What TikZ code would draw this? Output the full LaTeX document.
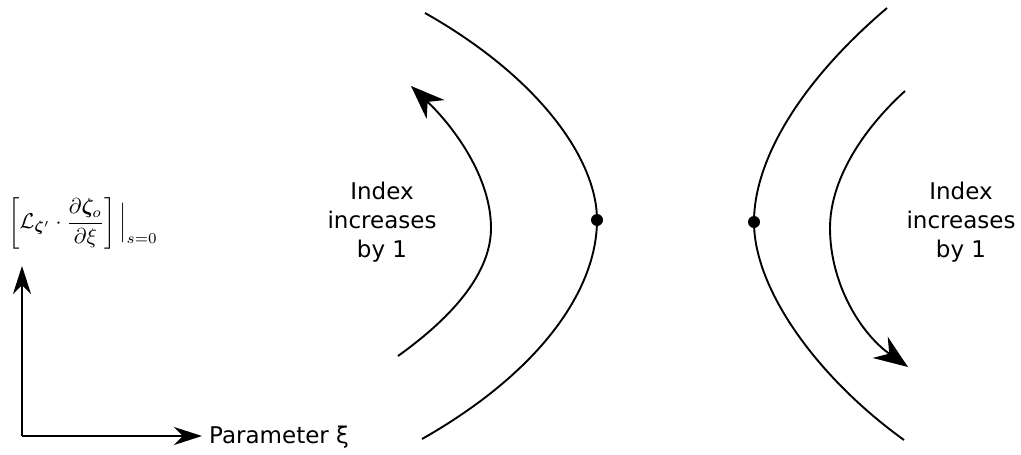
\documentclass[tikz,border=0pt]{standalone}
\usepackage{amsmath,bm}
\usepackage{fontspec}
\newfontfamily\labelfont{DejaVu Sans}
\usetikzlibrary{arrows.meta}
\begin{document}
\begin{tikzpicture}[x=1pt,y=-1pt,
  curveline/.style={line width=1.9pt},
  arrline/.style={line width=1.9pt,-{Stealth[length=34pt,width=26pt,inset=11pt]}},
  axisline/.style={line width=1.6pt,-{Stealth[length=28pt,width=18pt,inset=9pt]}},
  dotmark/.style={circle,fill=black,inner sep=0pt,minimum size=12pt},
  lbl/.style={font=\labelfont\fontsize{23}{29}\selectfont,align=center}]
\useasboundingbox (0,0) rectangle (1021,455);
% left hyperbola
\coordinate (l1) at (425,13);
\node[dotmark] (ld) at (597,220) {};
\coordinate (l2) at (422,439);
\draw[curveline] (l1) .. controls (540,78) and (597,160) .. (ld.center) .. controls (597,290) and (540,372) .. (l2);
% left arrow
\coordinate (la1) at (398,356);
\coordinate (lam) at (491,228);
\coordinate (la2) at (411,86);
\draw[arrline] (la1) .. controls (465,308) and (491,265) .. (lam) .. controls (491,178) and (455,128) .. (la2);
% right hyperbola
\coordinate (r1) at (887,8);
\node[dotmark] (rd) at (754,222) {};
\coordinate (r2) at (904,440);
\draw[curveline] (r1) .. controls (800,82) and (754,160) .. (rd.center) .. controls (754,290) and (818,378) .. (r2);
% right arrow
\coordinate (ra1) at (905,91);
\coordinate (ram) at (830,228);
\coordinate (ra2) at (908,367);
\draw[arrline] (ra1) .. controls (860,132) and (830,182) .. (ram) .. controls (830,283) and (860,333) .. (ra2);
% labels
\node[lbl] (lt) at (382,222) {Index\\increases\\by 1};
\node[lbl] (rt) at (961,222) {Index\\increases\\by 1};
% math label
\node[anchor=west,inner sep=0pt] (ml) at (8,223)
  {\scalebox{2.15}{$\left[\mathcal{L}_{\bm{\zeta}'}\cdot\dfrac{\partial\bm{\zeta}_o}{\partial\xi}\right]\Big|_{s=0}$}};
% axes
\coordinate (o) at (22,436);
\coordinate (yt) at (22,266);
\coordinate (xt) at (202,436);
\draw[axisline] (o) -- (yt);
\draw[axisline] (o) -- (xt);
\node[lbl,anchor=west,inner sep=0pt] (px) at (209,437) {Parameter ξ};
\end{tikzpicture}
\end{document}
